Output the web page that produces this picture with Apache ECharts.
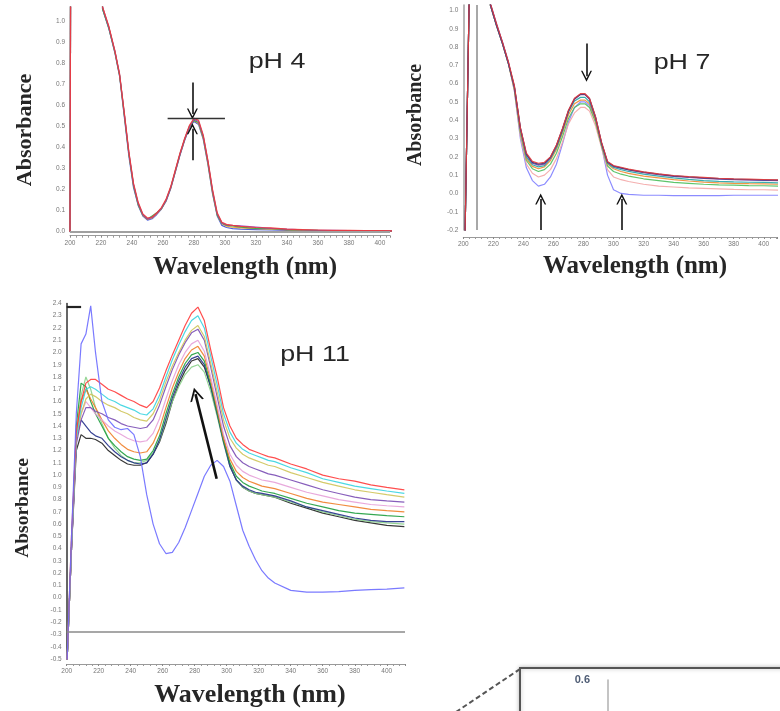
<!DOCTYPE html>
<html>
<head>
<meta charset="utf-8">
<title>UV-vis spectra pH 4 / 7 / 11</title>
<script src="https://cdn.jsdelivr.net/npm/echarts@6/dist/echarts.min.js"></script>
<style>
	html, body { margin: 0; padding: 0; background: #fff; }
	#main { width: 780px; height: 711px; }
</style>
</head>
<body>
<div id="main"></div>
<script>
// ---- pH 4 ----
var W4 = [200, 201, 219, 221, 225, 229, 232, 235, 238, 241, 244, 247, 250, 253, 256, 259, 262, 265, 268, 271, 274, 277, 280, 283, 286, 289, 292, 295, 298, 301, 305, 310, 320, 330, 340, 350, 360, 370, 380, 390, 400, 410];
var ph4Blue = [0, 3, 3, 1.06, 0.97, 0.85, 0.74, 0.55, 0.36, 0.21, 0.125, 0.075, 0.055, 0.062, 0.082, 0.108, 0.145, 0.205, 0.285, 0.365, 0.435, 0.495, 0.525, 0.51, 0.44, 0.32, 0.18, 0.075, 0.03, 0.02, 0.015, 0.012, 0.01, 0.008, 0.006, 0.004, 0.003, 0.003, 0.002, 0.002, 0.002, 0.002];
var ph4Orange = [0, 3, 3, 1.065, 0.975, 0.855, 0.745, 0.56, 0.37, 0.22, 0.13, 0.078, 0.058, 0.065, 0.085, 0.11, 0.148, 0.208, 0.288, 0.368, 0.438, 0.498, 0.53, 0.515, 0.445, 0.325, 0.185, 0.08, 0.038, 0.026, 0.022, 0.018, 0.014, 0.012, 0.009, 0.006, 0.005, 0.004, 0.003, 0.003, 0.003, 0.003];
var ph4Green = [0, 3, 3, 1.06, 0.97, 0.855, 0.745, 0.56, 0.37, 0.22, 0.13, 0.08, 0.06, 0.075, 0.09, 0.11, 0.15, 0.21, 0.29, 0.37, 0.44, 0.5, 0.53, 0.52, 0.45, 0.33, 0.19, 0.08, 0.04, 0.03, 0.028, 0.022, 0.016, 0.014, 0.01, 0.008, 0.006, 0.005, 0.004, 0.004, 0.004, 0.003];
var ph4Purple = [0, 3, 3, 1.07, 0.975, 0.86, 0.75, 0.565, 0.375, 0.225, 0.135, 0.082, 0.06, 0.068, 0.086, 0.112, 0.15, 0.21, 0.29, 0.37, 0.44, 0.5, 0.535, 0.525, 0.455, 0.335, 0.195, 0.085, 0.042, 0.032, 0.03, 0.028, 0.022, 0.016, 0.012, 0.009, 0.007, 0.006, 0.005, 0.005, 0.004, 0.004];
var ph4Red = [0, 3, 3, 1.07, 0.98, 0.86, 0.75, 0.57, 0.38, 0.23, 0.14, 0.085, 0.065, 0.07, 0.09, 0.115, 0.155, 0.215, 0.295, 0.375, 0.445, 0.505, 0.54, 0.53, 0.46, 0.34, 0.2, 0.09, 0.045, 0.035, 0.03, 0.025, 0.02, 0.018, 0.012, 0.01, 0.008, 0.006, 0.006, 0.005, 0.005, 0.004];

// ---- pH 7 ----
var W7 = [201, 204, 206, 216, 218, 222, 226, 230, 234, 238, 242, 246, 250, 254, 258, 262, 266, 270, 274, 278, 281, 284, 288, 292, 296, 300, 305, 310, 320, 330, 340, 350, 360, 370, 380, 390, 400, 410];
var ph7Blue = [-0.3, 1.1, 3, 3, 1.04, 0.93, 0.83, 0.72, 0.56, 0.3, 0.14, 0.07, 0.04, 0.05, 0.09, 0.16, 0.27, 0.39, 0.47, 0.5, 0.5, 0.48, 0.4, 0.26, 0.1, 0.02, 0.0, -0.005, -0.01, -0.01, -0.012, -0.012, -0.012, -0.012, -0.01, -0.01, -0.01, -0.01];
var ph7Pink = [-0.3, 1.1, 3, 3, 1.03, 0.92, 0.82, 0.71, 0.56, 0.31, 0.16, 0.11, 0.09, 0.1, 0.13, 0.19, 0.28, 0.38, 0.44, 0.47, 0.47, 0.45, 0.37, 0.25, 0.13, 0.09, 0.075, 0.065, 0.05, 0.04, 0.035, 0.03, 0.028, 0.025, 0.022, 0.02, 0.02, 0.018];
var ph7Green = [-0.3, 1.1, 3, 3, 1.03, 0.92, 0.82, 0.71, 0.57, 0.33, 0.18, 0.135, 0.12, 0.13, 0.16, 0.22, 0.31, 0.41, 0.47, 0.49, 0.49, 0.47, 0.39, 0.26, 0.15, 0.12, 0.105, 0.095, 0.08, 0.07, 0.06, 0.055, 0.05, 0.047, 0.045, 0.043, 0.042, 0.04];
var ph7Orange = [-0.3, 1.1, 3, 3, 1.03, 0.92, 0.82, 0.71, 0.57, 0.34, 0.19, 0.148, 0.135, 0.145, 0.18, 0.24, 0.33, 0.43, 0.49, 0.51, 0.51, 0.49, 0.4, 0.265, 0.16, 0.135, 0.12, 0.11, 0.095, 0.085, 0.075, 0.068, 0.062, 0.058, 0.055, 0.053, 0.052, 0.05];
var ph7Teal = [-0.3, 1.1, 3, 3, 1.03, 0.92, 0.82, 0.71, 0.58, 0.35, 0.2, 0.157, 0.145, 0.152, 0.19, 0.25, 0.34, 0.445, 0.505, 0.525, 0.525, 0.5, 0.41, 0.27, 0.165, 0.142, 0.13, 0.12, 0.105, 0.095, 0.085, 0.077, 0.07, 0.066, 0.063, 0.061, 0.06, 0.058];
var ph7Purple = [-0.3, 1.1, 3, 3, 1.03, 0.92, 0.82, 0.71, 0.58, 0.355, 0.21, 0.165, 0.155, 0.16, 0.195, 0.26, 0.35, 0.45, 0.515, 0.54, 0.54, 0.515, 0.415, 0.275, 0.17, 0.148, 0.138, 0.128, 0.113, 0.102, 0.093, 0.087, 0.082, 0.078, 0.075, 0.073, 0.071, 0.07];
var ph7Navy = [-0.3, 1.1, 3, 3, 1.035, 0.925, 0.825, 0.715, 0.585, 0.358, 0.215, 0.17, 0.16, 0.165, 0.198, 0.262, 0.352, 0.452, 0.518, 0.542, 0.542, 0.518, 0.418, 0.278, 0.172, 0.15, 0.14, 0.13, 0.116, 0.105, 0.096, 0.09, 0.085, 0.081, 0.078, 0.076, 0.074, 0.072];
var ph7Red = [-0.3, 1.1, 3, 3, 1.04, 0.93, 0.83, 0.72, 0.59, 0.36, 0.22, 0.175, 0.165, 0.17, 0.2, 0.265, 0.355, 0.455, 0.52, 0.545, 0.545, 0.52, 0.42, 0.28, 0.175, 0.152, 0.143, 0.133, 0.118, 0.107, 0.098, 0.092, 0.088, 0.083, 0.08, 0.078, 0.076, 0.074];

// ---- pH 11 ----
var W11 = [200, 203, 206, 209, 212, 215, 218, 222, 226, 230, 234, 238, 242, 246, 250, 254, 258, 262, 266, 270, 274, 278, 282, 286, 290, 294, 298, 302, 306, 310, 314, 318, 322, 326, 330, 340, 350, 360, 370, 380, 390, 400, 411];
var ph11Black = [-0.6, 0.4, 1.2, 1.33, 1.3, 1.3, 1.29, 1.26, 1.2, 1.16, 1.12, 1.09, 1.08, 1.08, 1.1, 1.17, 1.27, 1.42, 1.6, 1.74, 1.85, 1.93, 1.95, 1.88, 1.72, 1.52, 1.3, 1.08, 0.96, 0.9, 0.87, 0.85, 0.84, 0.83, 0.82, 0.77, 0.73, 0.69, 0.66, 0.63, 0.61, 0.59, 0.58];
var ph11LightGreen = [-0.6, 0.4, 1.3, 1.65, 1.8, 1.7, 1.55, 1.42, 1.3, 1.22, 1.16, 1.12, 1.1, 1.1, 1.12, 1.18, 1.28, 1.44, 1.6, 1.72, 1.82, 1.88, 1.9, 1.84, 1.68, 1.48, 1.26, 1.07, 0.96, 0.9, 0.87, 0.85, 0.84, 0.83, 0.82, 0.78, 0.74, 0.7, 0.67, 0.64, 0.62, 0.61, 0.6];
var ph11Navy = [-0.6, 0.4, 1.3, 1.45, 1.4, 1.35, 1.32, 1.3, 1.24, 1.19, 1.15, 1.12, 1.1, 1.09, 1.1, 1.17, 1.29, 1.46, 1.63, 1.77, 1.88, 1.95, 1.97, 1.9, 1.72, 1.5, 1.27, 1.07, 0.96, 0.91, 0.88, 0.86, 0.85, 0.84, 0.83, 0.79, 0.74, 0.71, 0.68, 0.65, 0.63, 0.62, 0.62];
var ph11Green = [-0.6, 0.4, 1.4, 1.75, 1.72, 1.6, 1.5, 1.4, 1.3, 1.24, 1.19, 1.15, 1.13, 1.12, 1.13, 1.2, 1.32, 1.5, 1.66, 1.8, 1.91, 1.98, 2.0, 1.93, 1.74, 1.51, 1.28, 1.1, 0.99, 0.94, 0.91, 0.89, 0.87, 0.86, 0.85, 0.81, 0.77, 0.74, 0.71, 0.69, 0.68, 0.67, 0.66];
var ph11Orange = [-0.6, 0.4, 1.35, 1.6, 1.7, 1.62, 1.55, 1.45, 1.36, 1.3, 1.25, 1.21, 1.19, 1.18, 1.19, 1.26, 1.38, 1.55, 1.71, 1.84, 1.95, 2.02, 2.05, 1.97, 1.77, 1.54, 1.3, 1.13, 1.03, 0.98, 0.95, 0.93, 0.91, 0.9, 0.89, 0.85, 0.81, 0.78, 0.76, 0.74, 0.72, 0.71, 0.7];
var ph11Pink = [-0.6, 0.4, 1.3, 1.5, 1.6, 1.55, 1.5, 1.45, 1.4, 1.36, 1.33, 1.3, 1.28, 1.27, 1.28, 1.34, 1.46, 1.62, 1.77, 1.9, 2.0, 2.07, 2.1, 2.01, 1.8, 1.57, 1.33, 1.17, 1.08, 1.03, 1.0, 0.98, 0.96, 0.95, 0.94, 0.9, 0.86, 0.83, 0.8, 0.78, 0.76, 0.75, 0.74];
var ph11Purple = [-0.6, 0.4, 1.25, 1.45, 1.55, 1.55, 1.52, 1.5, 1.47, 1.45, 1.42, 1.4, 1.39, 1.38, 1.39, 1.45, 1.57, 1.72, 1.86, 1.98, 2.08, 2.16, 2.19, 2.1, 1.88, 1.64, 1.4, 1.24, 1.15, 1.1, 1.07, 1.05, 1.03, 1.01, 1.0, 0.96, 0.92, 0.88, 0.85, 0.82, 0.8, 0.79, 0.78];
var ph11Olive = [-0.6, 0.45, 1.3, 1.5, 1.62, 1.66, 1.64, 1.6, 1.57, 1.55, 1.52, 1.5, 1.47, 1.45, 1.44, 1.5, 1.61, 1.76, 1.89, 2.0, 2.1, 2.18, 2.22, 2.13, 1.91, 1.68, 1.45, 1.3, 1.22, 1.17, 1.14, 1.12, 1.1, 1.08, 1.07, 1.02, 0.98, 0.94, 0.91, 0.88, 0.86, 0.84, 0.82];
var ph11Cyan = [-0.6, 0.45, 1.3, 1.55, 1.7, 1.72, 1.7, 1.66, 1.62, 1.6, 1.57, 1.55, 1.53, 1.5, 1.49, 1.54, 1.65, 1.8, 1.94, 2.06, 2.17, 2.26, 2.3, 2.2, 1.97, 1.74, 1.5, 1.35, 1.26, 1.21, 1.18, 1.16, 1.14, 1.12, 1.11, 1.06, 1.02, 0.97, 0.94, 0.91, 0.89, 0.87, 0.85];
var ph11Red = [-0.6, 0.5, 1.35, 1.6, 1.75, 1.78, 1.78, 1.74, 1.7, 1.68, 1.65, 1.62, 1.6, 1.57, 1.55, 1.6, 1.71, 1.85, 1.98, 2.1, 2.22, 2.32, 2.37, 2.26, 2.02, 1.8, 1.55, 1.4, 1.3, 1.25, 1.21, 1.19, 1.17, 1.15, 1.14, 1.09, 1.05, 1.0, 0.97, 0.95, 0.92, 0.9, 0.88];
var ph11Blue = [-0.6, 0.5, 1.5, 2.07, 2.15, 2.38, 2.0, 1.6, 1.45, 1.39, 1.37, 1.38, 1.33, 1.15, 0.84, 0.6, 0.44, 0.36, 0.37, 0.45, 0.57, 0.71, 0.85, 0.99, 1.08, 1.12, 1.07, 0.95, 0.75, 0.55, 0.42, 0.31, 0.22, 0.16, 0.12, 0.06, 0.045, 0.045, 0.05, 0.06, 0.065, 0.07, 0.08];

// annotations (nm, absorbance)
var ph4Arrows = [[[279, 0.71], [279, 0.56]], [[279, 0.34], [279, 0.49]]];
var ph4Cross = [[263, 0.54], [300, 0.54]];
var ph7Arrows = [[[282, 0.82], [282, 0.64]], [[251.5, -0.2], [251.5, -0.03]], [[305.5, -0.2], [305.5, -0.03]]];
var ph11Arrow = [[293.7, 0.97], [280.5, 1.66]];
var ph11Base = -0.28;
var ph11Bracket = [[200, 2.37], [209, 2.37]];
var ph7Marker = 209;

var chevron = 'path://M0,12 L6,0 L12,12 L10.4,12 L6,3.6 L1.6,12 Z';

function zip(xs, ys) {
	var d = [];
	for (var i = 0; i < xs.length; i++) {
		d.push([xs[i], ys[i]]);
	}
	return d;
}

function curve(idx, xs, ys, color) {
	return {
		type: 'line',
		xAxisIndex: idx,
		yAxisIndex: idx,
		data: zip(xs, ys),
		symbol: 'none',
		smooth: false,
		clip: true,
		silent: true,
		animation: false,
		lineStyle: { color: color, width: 1.2, opacity: 0.9 },
		itemStyle: { color: color }
	};
}

function seg(p, color, width, arrow, size) {
	return [
		{ coord: p[0], symbol: 'none', lineStyle: { color: color, width: width, type: 'solid' } },
		{ coord: p[1], symbol: arrow ? chevron : 'none', symbolSize: size || [11, 11] }
	];
}

function marks(data) {
	return { silent: true, animation: false, symbol: ['none', 'none'], label: { show: false }, data: data };
}

function yFmt(v) {
	var r = Math.round(v * 10) / 10;
	return Math.abs(v - r) < 1e-6 ? r.toFixed(1) : '';
}
function xFmt(v) {
	return Math.abs(v % 20) < 1e-6 ? String(Math.round(v)) : '';
}

function xAx(idx, max, offset) {
	return {
		type: 'value', gridIndex: idx, min: 200, max: max, interval: 20, offset: offset,
		axisLine: { show: true, onZero: false, lineStyle: { color: '#9a9a9a', width: 1 } },
		axisTick: { show: true, length: 2, lineStyle: { color: '#888' } },
		minorTick: { show: true, splitNumber: 5, length: 2, lineStyle: { color: '#999' } },
		axisLabel: { formatter: xFmt, fontSize: 6.5, color: '#777', margin: 4, fontFamily: 'Liberation Sans' },
		splitLine: { show: false }
	};
}

function yAx(idx, min, max, lineColor) {
	return {
		type: 'value', gridIndex: idx, min: min, max: max, interval: 0.1,
		axisLine: { show: true, onZero: false, lineStyle: { color: lineColor, width: 1.5 } },
		axisTick: { show: false },
		axisLabel: { formatter: yFmt, fontSize: 6.5, color: '#777', margin: 5, fontFamily: 'Liberation Sans' },
		splitLine: { show: false }
	};
}

function label(txt, x, y, size, bold, family, rot, sx) {
	return {
		type: 'text', x: x, y: y, rotation: rot || 0, scaleX: sx || 1, silent: true, z: 10,
		style: {
			text: txt, fill: '#262626', fontSize: size, fontWeight: bold ? 'bold' : 'normal',
			fontFamily: family, align: 'center', verticalAlign: 'middle'
		}
	};
}

var serif = '"Liberation Serif", "DejaVu Serif", serif';
var sans = '"Liberation Sans", Arial, sans-serif';

// 生成各面板曲线
var s4 = [
	curve(0, W4, ph4Blue, '#3a4fd8'),
	curve(0, W4, ph4Orange, '#f0a030'),
	curve(0, W4, ph4Green, '#2fa84a'),
	curve(0, W4, ph4Purple, '#9b40b8'),
	curve(0, W4, ph4Red, '#ee3a3a')
];
s4[4].markLine = marks([
	seg(ph4Arrows[0], '#111', 1.6, true),
	seg(ph4Arrows[1], '#111', 1.6, true),
	seg(ph4Cross, '#333', 1.3, false),
	[{ coord: [200, 0], symbol: 'none', lineStyle: { color: '#a0a0a0', width: 2, type: 'solid' } }, { coord: [406.5, 0], symbol: 'none' }]
]);

var s7 = [
	curve(1, W7, ph7Blue, '#7f7fff'),
	curve(1, W7, ph7Pink, '#f3a6a6'),
	curve(1, W7, ph7Green, '#4cbf5c'),
	curve(1, W7, ph7Orange, '#f08a30'),
	curve(1, W7, ph7Teal, '#22a6a6'),
	curve(1, W7, ph7Purple, '#8040a0'),
	curve(1, W7, ph7Navy, '#2a3580'),
	curve(1, W7, ph7Red, '#e33a3a')
];
s7[7].markLine = marks([
	seg(ph7Arrows[0], '#111', 1.6, true),
	seg(ph7Arrows[1], '#111', 1.6, true),
	seg(ph7Arrows[2], '#111', 1.6, true),
	[{ coord: [ph7Marker, -0.2], symbol: 'none', lineStyle: { color: '#a8a8a8', width: 2, type: 'solid' } }, { coord: [ph7Marker, 1.03], symbol: 'none' }]
]);

var s11 = [
	curve(2, W11, ph11Black, '#222222'),
	curve(2, W11, ph11LightGreen, '#8ad08a'),
	curve(2, W11, ph11Navy, '#23308a'),
	curve(2, W11, ph11Green, '#1f9e3f'),
	curve(2, W11, ph11Orange, '#f0802a'),
	curve(2, W11, ph11Pink, '#e6a0d8'),
	curve(2, W11, ph11Purple, '#7a4cb4'),
	curve(2, W11, ph11Olive, '#cfc45a'),
	curve(2, W11, ph11Cyan, '#38d4e0'),
	curve(2, W11, ph11Red, '#ff3b3b'),
	curve(2, W11, ph11Blue, '#6c6cff')
];
s11[10].markLine = marks([
	seg(ph11Arrow, '#111', 2.6, true, [14, 13]),
	[{ coord: [200, ph11Base], symbol: 'none', lineStyle: { color: '#8a8a8a', width: 1.6, type: 'solid' } }, { coord: [411.4, ph11Base], symbol: 'none' }],
	seg(ph11Bracket, '#222', 2.2, false)
]);

var inset = { type: 'line', xAxisIndex: 3, yAxisIndex: 3, data: [], silent: true };

var option = {
	backgroundColor: '#fff',
	animation: false,
	grid: [
		{ left: 70, top: 7, width: 320, height: 224.7 },
		{ left: 463.3, top: 5, width: 316.7, height: 225 },
		{ left: 66.7, top: 303.4, width: 338.3, height: 355.6 },
		{ left: 608, top: 680, width: 172, height: 600 }
	],
	xAxis: [
		xAx(0, 406.5, 4),
		xAx(1, 408.8, 7),
		xAx(2, 411.4, 5),
		{ type: 'value', gridIndex: 3, min: 0, max: 1, show: false }
	],
	yAxis: [
		yAx(0, 0, 1.07, '#c8c8c8'),
		yAx(1, -0.2, 1.03, '#a0a0a0'),
		yAx(2, -0.5, 2.4, '#333'),
		{
			type: 'value', gridIndex: 3, min: 0, max: 0.6, interval: 0.1,
			axisLine: { show: true, lineStyle: { color: '#b0b0b0', width: 1.5 } },
			axisTick: { show: false }, splitLine: { show: false },
			axisLabel: { fontSize: 11, fontWeight: 'bold', color: '#4e5c74', margin: 18, fontFamily: sans,
				formatter: function(v) { return v >= 0.6 - 1e-6 ? '0.6' : ''; } }
		}
	],
	graphic: [
		{ type: 'rect', shape: { x: 520, y: 668, width: 300, height: 100 }, style: { fill: '#fff', stroke: '#555', lineWidth: 2, shadowBlur: 4, shadowColor: 'rgba(0,0,0,0.25)' }, z: -1, silent: true },
		{ type: 'line', shape: { x1: 456, y1: 712, x2: 520, y2: 669 }, style: { stroke: '#555', lineWidth: 2, lineDash: [5, 3] }, silent: true },
		label('Absorbance', 25, 130, 22, true, serif, Math.PI / 2),
		label('Wavelength (nm)', 245, 268, 25, true, serif),
		label('pH 4', 277, 62, 22, false, sans, 0, 1.22),
		label('Absorbance', 416, 115, 20, true, serif, Math.PI / 2),
		label('Wavelength (nm)', 635, 267, 25, true, serif),
		label('pH 7', 682, 63, 22, false, sans, 0, 1.22),
		label('Absorbance', 23, 508, 19.5, true, serif, Math.PI / 2),
		label('Wavelength (nm)', 250, 695, 26, true, serif),
		label('pH 11', 315, 355, 22, false, sans, 0, 1.22)
	],
	series: s4.concat(s7, s11, [inset])
};

var chart = echarts.init(document.getElementById('main'), null, { renderer: 'canvas' });
chart.setOption(option);
</script>
</body>
</html>
